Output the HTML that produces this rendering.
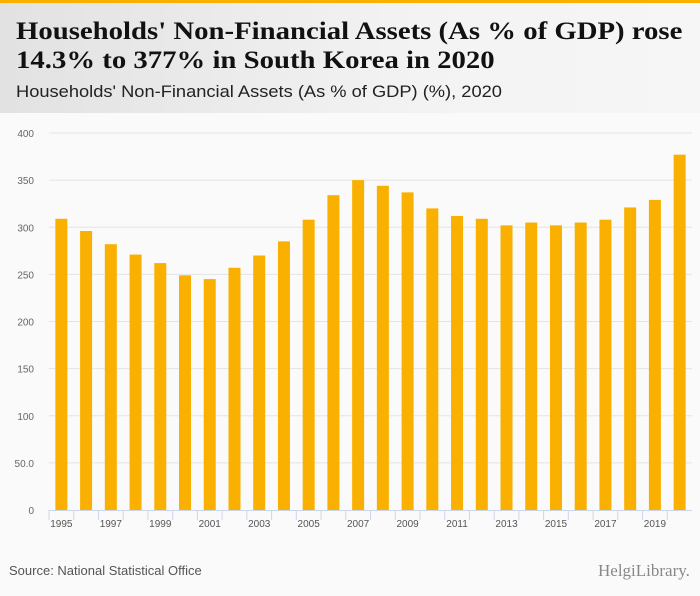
<!DOCTYPE html>
<html><head><meta charset="utf-8"><style>
body{margin:0;width:700px;height:596px;overflow:hidden;background:#fafafa;font-family:"Liberation Sans",sans-serif}
#hdr{position:absolute;left:0;top:0;width:700px;height:113px;background:linear-gradient(90deg,#e2e2e2,#f3f3f3 60%,#f6f6f6);border-top:3px solid #f9b000;box-sizing:border-box}
#t{position:absolute;left:16px;top:14px;font-family:"Liberation Serif",serif;font-weight:bold;font-size:25px;line-height:29px;color:#111;transform:scaleX(1.15);transform-origin:left top;white-space:nowrap}
#st{position:absolute;left:16px;top:79px;font-size:17px;color:#222;transform:scaleX(1.075);transform-origin:left top;white-space:nowrap}
#src{position:absolute;left:9px;top:563px;font-size:13px;color:#555}
#logo{position:absolute;left:598px;top:561px;font-size:17px;color:#888;font-family:"Liberation Serif",serif}
</style></head><body>
<div id="hdr">
<div id="t">Households' Non-Financial Assets (As % of GDP) rose<br>14.3% to 377% in South Korea in 2020</div>
<div id="st">Households' Non-Financial Assets (As % of GDP) (%), 2020</div>
</div>
<svg id="c" width="700" height="596" style="position:absolute;left:0;top:0"></svg>
<div id="src">Source: National Statistical Office</div>
<div id="logo">HelgiLibrary.</div>
<script>
const years=[1995,1996,1997,1998,1999,2000,2001,2002,2003,2004,2005,2006,2007,2008,2009,2010,2011,2012,2013,2014,2015,2016,2017,2018,2019,2020];
const values=[309,296,282,271,262,249,245,257,270,285,308,334,350,344,337,320,312,309,302,305,302,305,308,321,329,377];
const yTicks=[0,50,100,150,200,250,300,350,400];
const yTickLabels=["0","50.0","100","150","200","250","300","350","400"];
const svg=document.getElementById('c');const NS='http://www.w3.org/2000/svg';
const x0=49,x1=692,yb=510,yt=133,maxV=400;
const bw=(x1-x0)/years.length;
const y=v=>yb-(v/maxV)*(yb-yt);
const xc=i=>x0+bw*(i+0.5);
function mk(t,a){const e=document.createElementNS(NS,t);for(const k in a)e.setAttribute(k,a[k]);svg.appendChild(e);return e;}
yTicks.forEach((v,i)=>{
 if(v>0){const g=mk('line',{x1:x0,x2:x1,y1:y(v),y2:y(v),stroke:'#e4e4e4','stroke-width':1});
 
 }
 const t=mk('text',{x:34,y:y(v)+4,'text-anchor':'end','font-size':10,fill:'#666'});t.textContent=yTickLabels[i];
 
 
});
const ax=mk('line',{x1:x0,x2:x1,y1:yb+0.5,y2:yb+0.5,stroke:'#ccd6eb'});


years.forEach((yr,i)=>{
 const tk=mk('line',{x1:x0+bw*i,x2:x0+bw*i,y1:yb,y2:yb+10,stroke:'#ccd6eb'});
 
 
 const r=mk('rect',{x:xc(i)-6,y:y(values[i]),width:12,height:yb-y(values[i]),fill:'#f9b000'});
 
 
 if(i%2==0){const t=mk('text',{x:xc(i),y:yb+17,'text-anchor':'middle','font-size':10,fill:'#555'});t.textContent=yr;
 
 }
});
</script>
</body></html>
